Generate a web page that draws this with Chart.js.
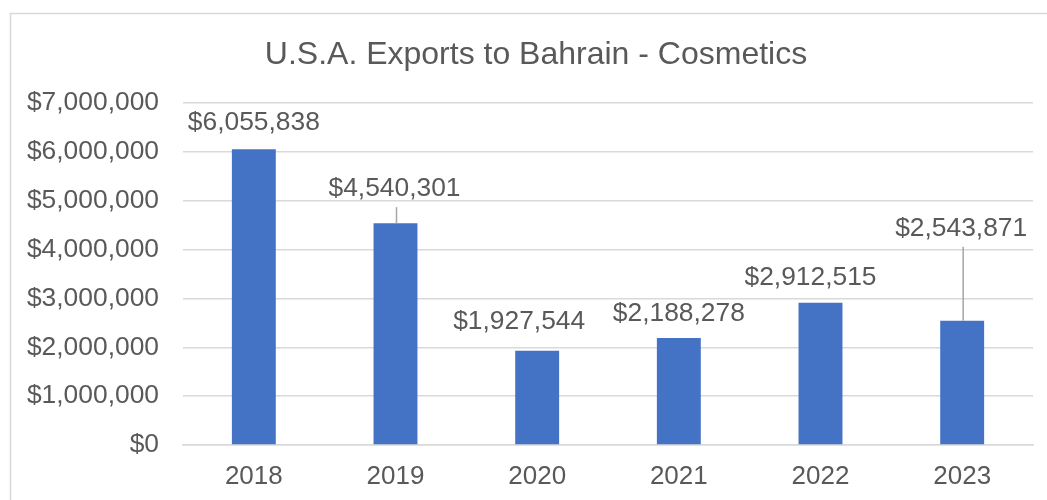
<!DOCTYPE html>
<html>
<head>
<meta charset="utf-8">
<title>U.S.A. Exports to Bahrain - Cosmetics</title>
<script src="https://cdn.jsdelivr.net/npm/chart.js@4"></script>
<style>
  html, body { margin: 0; padding: 0; background: #fff; }
  #wrap { width: 1047px; height: 500px; position: relative; }
</style>
</head>
<body>
<div id="wrap"><canvas id="myChart"></canvas></div>
<script>
const years = ["2018", "2019", "2020", "2021", "2022", "2023"];
const exportValues = [6055838, 4540301, 1927544, 2188278, 2912515, 2543871];
const chartTitle = "U.S.A. Exports to Bahrain - Cosmetics";

// where each value label sits relative to the top of its bar (px), and which ones get a leader line
const labelShift = [
    { dx: 0, dy: 26, leader: false },
    { dx: -1, dy: 34, leader: true },
    { dx: -18, dy: 29, leader: false },
    { dx: 0, dy: 24, leader: false },
    { dx: -10, dy: 25, leader: false },
    { dx: -1, dy: 92, leader: true }
];

const textColor = "#595959";
const gridColor = "#d9d9d9";
const fontFamily = "'Liberation Sans', Arial, sans-serif";

function money(v) {
    return "$" + Number(v).toLocaleString("en-US");
}

const frameAndLabels = {
    id: "frameAndLabels",
    beforeDraw(chart) {
        const c = chart.ctx;
        c.save();
        c.strokeStyle = gridColor;
        c.lineWidth = 1.5;
        c.strokeRect(10.5, 13.5, 1200, 700);
        c.fillStyle = textColor;
        c.font = "32px " + fontFamily;
        c.textAlign = "center";
        c.textBaseline = "alphabetic";
        c.fillText(chartTitle, 536, 63.5);
        c.restore();
    },
    afterDatasetsDraw(chart) {
        const c = chart.ctx;
        const bars = chart.getDatasetMeta(0).data;
        c.save();
        c.font = "26.4px " + fontFamily;
        c.textAlign = "center";
        c.textBaseline = "middle";
        bars.forEach((bar, i) => {
            const s = labelShift[i];
            const ly = bar.y - s.dy;
            if (s.leader) {
                c.strokeStyle = "#a6a6a6";
                c.lineWidth = 1.5;
                c.beginPath();
                c.moveTo(bar.x + 1, ly + 18);
                c.lineTo(bar.x + 1, bar.y);
                c.stroke();
            }
            c.fillStyle = textColor;
            c.fillText(money(exportValues[i]), bar.x + s.dx, ly);
        });
        c.restore();
    }
};

const ctx = document.getElementById("myChart").getContext("2d");
const chart = new Chart(ctx, {
    type: "bar",
    data: {
        labels: years,
        datasets: [{
            data: exportValues,
            backgroundColor: "#4472C4",
            barPercentage: 0.31,
            categoryPercentage: 1
        }]
    },
    options: {
        responsive: true,
        maintainAspectRatio: false,
        animation: false,
        layout: { padding: { left: 10, right: 14, top: 103, bottom: 0 } },
        plugins: {
            legend: { display: false },
            title: { display: false },
            tooltip: { enabled: false }
        },
        scales: {
            x: {
                grid: { display: false, drawTicks: false },
                border: { color: gridColor, width: 1.5 },
                ticks: {
                    color: textColor,
                    font: { family: fontFamily, size: 26 },
                    padding: 16
                },
                afterFit(scale) { scale.height = 55; }
            },
            y: {
                min: 0,
                max: 7000000,
                grid: { color: gridColor, lineWidth: 1.5, drawTicks: false },
                border: { display: false },
                ticks: {
                    stepSize: 1000000,
                    color: textColor,
                    font: { family: fontFamily, size: 26.4 },
                    padding: 24,
                    callback: v => money(v)
                },
                afterFit(scale) { scale.width = 173; }
            }
        }
    },
    plugins: [frameAndLabels]
});
</script>
</body>
</html>
